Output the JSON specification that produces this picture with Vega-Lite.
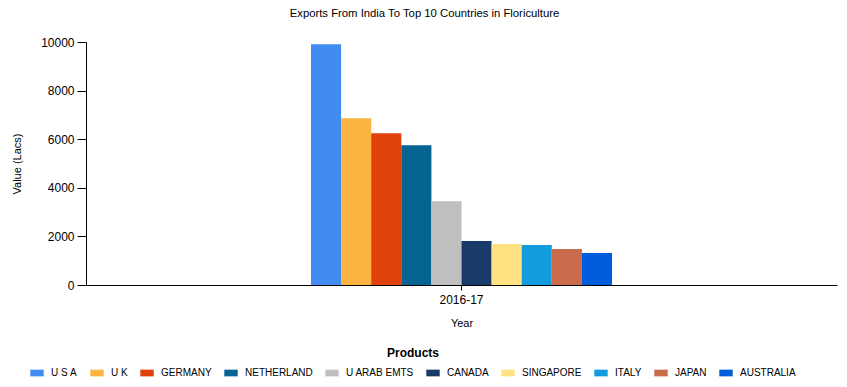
{
  "$schema": "https://vega.github.io/schema/vega-lite/v6.json",
  "width": 751,
  "height": 243,
  "autosize": {"type": "none"},
  "padding": {"left": 86, "top": 42, "right": 10, "bottom": 102},
  "background": "white",
  "title": {
    "text": "Exports From India To Top 10 Countries in Floriculture",
    "font": "Liberation Sans",
    "fontSize": 11.3,
    "fontWeight": "normal",
    "color": "#000000",
    "anchor": "middle",
    "frame": "group",
    "dx": -37,
    "offset": 17
  },
  "data": {
    "values": [
      {"Year": "2016-17", "Country": "U S A", "Value": 9910},
      {"Year": "2016-17", "Country": "U K", "Value": 6860},
      {"Year": "2016-17", "Country": "GERMANY", "Value": 6250},
      {"Year": "2016-17", "Country": "NETHERLAND", "Value": 5750},
      {"Year": "2016-17", "Country": "U ARAB EMTS", "Value": 3450},
      {"Year": "2016-17", "Country": "CANADA", "Value": 1810},
      {"Year": "2016-17", "Country": "SINGAPORE", "Value": 1690},
      {"Year": "2016-17", "Country": "ITALY", "Value": 1650},
      {"Year": "2016-17", "Country": "JAPAN", "Value": 1480},
      {"Year": "2016-17", "Country": "AUSTRALIA", "Value": 1320}
    ]
  },
  "mark": {"type": "bar"},
  "encoding": {
    "x": {
      "field": "Year",
      "type": "nominal",
      "scale": {"paddingInner": 0, "paddingOuter": 0.7475},
      "axis": {
        "title": "Year",
        "labelAngle": 0,
        "labelFont": "Liberation Sans",
        "labelFontSize": 12,
        "labelColor": "#000000",
        "titleFont": "Liberation Sans",
        "titleFontSize": 11,
        "titleFontWeight": "normal",
        "titleColor": "#000000",
        "titlePadding": 12,
        "domainColor": "#000000",
        "tickColor": "#000000",
        "tickSize": 5,
        "labelPadding": 4,
        "grid": false
      }
    },
    "xOffset": {
      "field": "Country",
      "type": "nominal",
      "sort": ["U S A", "U K", "GERMANY", "NETHERLAND", "U ARAB EMTS", "CANADA", "SINGAPORE", "ITALY", "JAPAN", "AUSTRALIA"],
      "scale": {"paddingInner": 0, "paddingOuter": 0}
    },
    "y": {
      "field": "Value",
      "type": "quantitative",
      "scale": {"domain": [0, 10000], "nice": false},
      "axis": {
        "title": "Value (Lacs)",
        "values": [0, 2000, 4000, 6000, 8000, 10000],
        "format": "d",
        "grid": false,
        "labelFont": "Liberation Sans",
        "labelFontSize": 12,
        "labelColor": "#000000",
        "titleFont": "Liberation Sans",
        "titleFontSize": 11,
        "titleFontWeight": "normal",
        "titleColor": "#000000",
        "titlePadding": 18,
        "domainColor": "#000000",
        "tickColor": "#000000",
        "tickSize": 9,
        "labelPadding": 3
      }
    },
    "color": {
      "field": "Country",
      "type": "nominal",
      "scale": {
        "domain": ["U S A", "U K", "GERMANY", "NETHERLAND", "U ARAB EMTS", "CANADA", "SINGAPORE", "ITALY", "JAPAN", "AUSTRALIA"],
        "range": ["#418CF0", "#FCB441", "#E0400A", "#056492", "#BFBFBF", "#1A3B69", "#FFE382", "#129CDD", "#CA6B4B", "#005CDB"]
      },
      "legend": {
        "title": "Products",
        "orient": "none",
        "legendX": -56,
        "legendY": 306,
        "direction": "horizontal",
        "titleAnchor": "middle",
        "titleFont": "Liberation Sans",
        "titleFontSize": 12,
        "titleFontWeight": "bold",
        "titleColor": "#000000",
        "titlePadding": 6,
        "labelFont": "Liberation Sans",
        "labelFontSize": 10,
        "labelColor": "#000000",
        "labelOffset": 7,
        "symbolType": "M-1,-0.5L1,-0.5L1,0.5L-1,0.5Z",
        "symbolSize": 180,
        "symbolStrokeWidth": 0,
        "symbolOpacity": 1,
        "columnPadding": 12
      }
    }
  },
  "config": {
    "view": {"stroke": null},
    "axis": {"domainWidth": 1, "tickWidth": 1}
  }
}
